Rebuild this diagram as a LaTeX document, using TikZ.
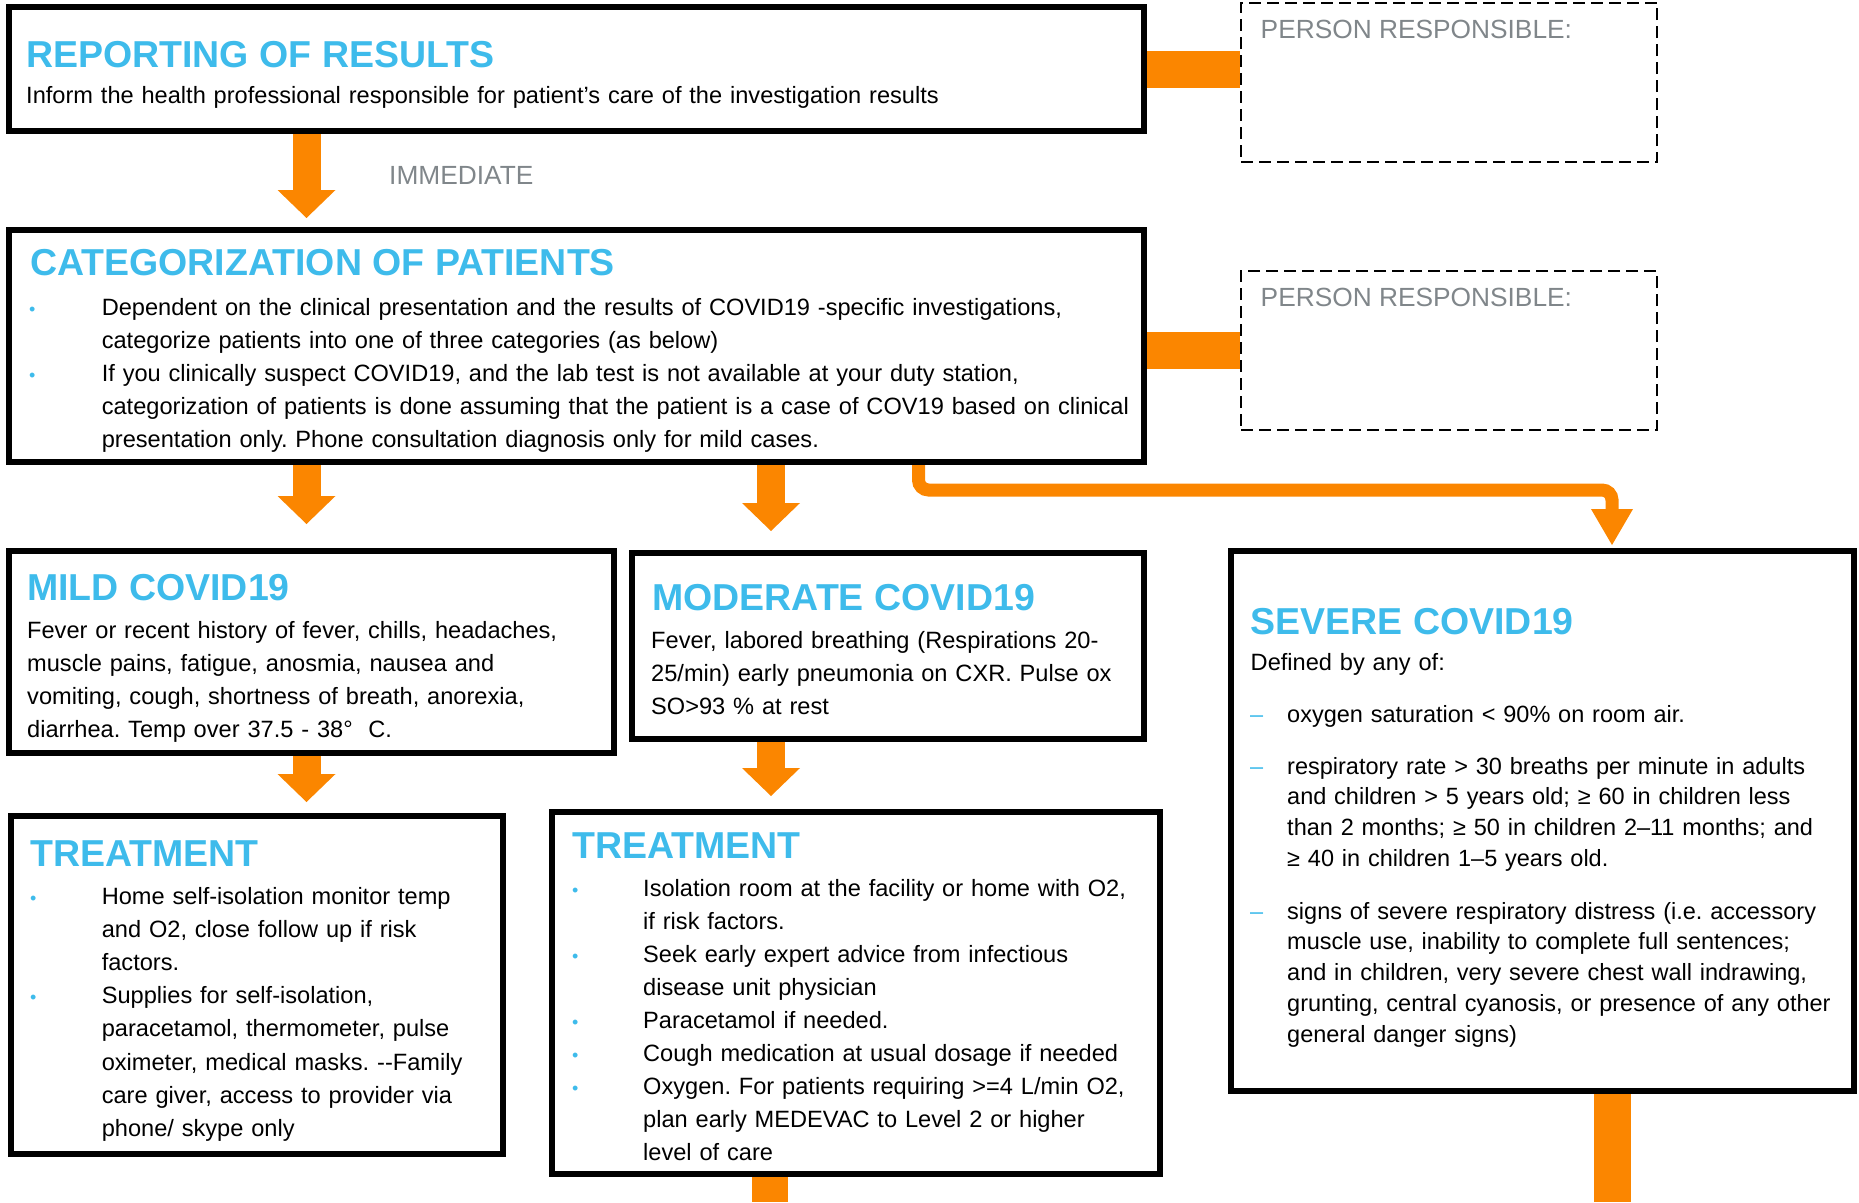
\documentclass[tikz,border=0pt]{standalone}
\usepackage{fontspec}
\setmainfont{Liberation Sans}
\usetikzlibrary{arrows.meta}
\definecolor{oarr}{RGB}{251,134,0}
\definecolor{ttl}{RGB}{62,187,235}
\definecolor{gry}{RGB}{128,134,138}
\pgfdeclarelayer{bg}
\pgfsetlayers{bg,main}
\frenchspacing
\tikzset{
  box/.style={draw=black, line width=6pt, rectangle, inner sep=0pt},
  prbox/.style={draw=black, line width=2pt, dash pattern=on 12pt off 6pt, rectangle, inner sep=0pt},
  ttlf/.style={anchor=base west, inner sep=0pt, text=ttl, font=\fontsize{37.5}{40}\selectfont\bfseries},
  bodyf/.style={anchor=base west, inner sep=0pt, text=black, align=left, text width=1100pt, font=\fontsize{23.6}{33.2}\selectfont},
  sevf/.style={anchor=base west, inner sep=0pt, text=black, align=left, text width=560pt, font=\fontsize{23.5}{30.9}\selectfont},
  grayf/.style={anchor=base west, inner sep=0pt, text=gry, font=\fontsize{26.3}{30}\selectfont},
  bul/.style={anchor=base west, inner sep=0pt, text=ttl, font=\fontsize{18}{20}\selectfont},
  dsh/.style={anchor=base west, inner sep=0pt, text=ttl, font=\fontsize{23.5}{30}\selectfont},
  obar/.style={draw=oarr, line width=37pt},
  oarrow/.style={draw=oarr, line width=28pt, -{Triangle[width=58pt,length=28pt,line width=0pt]}},
  othin/.style={draw=oarr, line width=13pt, rounded corners=10pt, -{Triangle[width=42pt,length=36pt,line width=0pt]}}
}
\begin{document}
\begin{tikzpicture}[x=1pt,y=-1pt]
\useasboundingbox (0,0) rectangle (1859,1202);
% boxes
\node[box, minimum width=1135pt, minimum height=124pt] (rep) at (576.5,69) {};
\node[box, minimum width=1135pt, minimum height=232pt] (cat) at (576.5,346) {};
\node[box, minimum width=605pt, minimum height=202pt] (mild) at (311.5,652) {};
\node[box, minimum width=512pt, minimum height=186pt] (mod) at (888,646) {};
\node[box, minimum width=623pt, minimum height=540pt] (sev) at (1542.5,821) {};
\node[box, minimum width=492.5pt, minimum height=338pt] (tr1) at (256.75,985) {};
\node[box, minimum width=608pt, minimum height=362pt] (tr2) at (856,993) {};
\node[prbox, minimum width=416pt, minimum height=159.5pt] (pr1) at (1449,82.25) {};
\node[prbox, minimum width=416pt, minimum height=159pt] (pr2) at (1449,350.5) {};
% column coordinates
\coordinate (cl) at (306.5,0);
\coordinate (cm) at (771,0);
\coordinate (cs) at (918.5,0);
\coordinate (cr) at (1612,0);
\coordinate (e1) at (770,1202);
\coordinate (e2) at (1612,1202);
% connectors
\begin{pgfonlayer}{bg}
\draw[obar] (rep.east) -- (rep.east -| pr1.west);
\draw[obar] (pr2.west -| cat.east) -- (pr2.west);
\draw[oarrow, shorten >=9pt] (rep.south -| cl) -- (cat.north -| cl);
\draw[oarrow, shorten >=24pt] (cat.south -| cl) -- (mild.north -| cl);
\draw[oarrow, shorten >=19pt] (cat.south -| cm) -- (mod.north -| cm);
\draw[oarrow, shorten >=11pt] (mild.south -| cl) -- (tr1.north -| cl);
\draw[oarrow, shorten >=13pt] (mod.south -| cm) -- (tr2.north -| cm);
\draw[othin, shorten >=3pt] (cat.south -| cs) -- ++(0,25) -| (sev.north -| cr);
\draw[draw=oarr, line width=36pt] (tr2.south -| e1) -- (e1);
\draw[draw=oarr, line width=37pt] (sev.south -| e2) -- (e2);
\end{pgfonlayer}
% texts
\node[ttlf] (rep-t) at (26,67) {REPORTING OF RESULTS};
\node[bodyf] (rep-b) at (26,103) {Inform the health professional responsible for patient’s care of the investigation results};
\node[grayf] (pr1-t) at (1260.5,38.6) {PERSON RESPONSIBLE:};
\node[grayf] (pr2-t) at (1260.5,306) {PERSON RESPONSIBLE:};
\node[grayf] (imm) at (389,184) {IMMEDIATE};
\node[ttlf] (cat-t) at (30,275) {CATEGORIZATION OF PATIENTS};
\node[bul] (cat-b1) at (29,315) {•};
\node[bul] (cat-b2) at (29,381.4) {•};
\node[bodyf] (cat-x) at (101.6,315) {Dependent on the clinical presentation and the results of COVID19 -specific investigations,\\
categorize patients into one of three categories (as below)\\
If you clinically suspect COVID19, and the lab test is not available at your duty station,\\
categorization of patients is done assuming that the patient is a case of COV19 based on clinical\\
presentation only. Phone consultation diagnosis only for mild cases.};
\node[ttlf] (mild-t) at (27,600) {MILD COVID19};
\node[bodyf] (mild-x) at (27,638) {Fever or recent history of fever, chills, headaches,\\
muscle pains, fatigue, anosmia, nausea and\\
vomiting, cough, shortness of breath, anorexia,\\
diarrhea. Temp over 37.5 - 38°\ \ C.};
\node[ttlf] (mod-t) at (652,610) {MODERATE COVID19};
\node[bodyf] (mod-x) at (651,648) {Fever, labored breathing (Respirations 20-\\
25/min) early pneumonia on CXR. Pulse ox\\
SO>93 \% at rest};
\node[ttlf] (tr1-t) at (30,866) {TREATMENT};
\node[bul] (tr1-b1) at (30,904) {•};
\node[bul] (tr1-b2) at (30,1003.6) {•};
\node[bodyf] (tr1-x) at (101.6,904) {Home self-isolation monitor temp\\
and O2, close follow up if risk\\
factors.\\
Supplies for self-isolation,\\
paracetamol, thermometer, pulse\\
oximeter, medical masks. -{}-Family\\
care giver, access to provider via\\
phone/ skype only};
\node[ttlf] (tr2-t) at (572,858) {TREATMENT};
\node[bul] (tr2-b1) at (572,896) {•};
\node[bul] (tr2-b2) at (572,962.2) {•};
\node[bul] (tr2-b3) at (572,1028.4) {•};
\node[bul] (tr2-b4) at (572,1061.5) {•};
\node[bul] (tr2-b5) at (572,1094.6) {•};
\node[bodyf, font=\fontsize{23.6}{33.1}\selectfont] (tr2-x) at (643,896) {Isolation room at the facility or home with O2,\\
if risk factors.\\
Seek early expert advice from infectious\\
disease unit physician\\
Paracetamol if needed.\\
Cough medication at usual dosage if needed\\
Oxygen. For patients requiring >=4 L/min O2,\\
plan early MEDEVAC to Level 2 or higher\\
level of care};
\node[ttlf] (sev-t) at (1250.5,634) {SEVERE COVID19};
\node[bodyf] (sev-d) at (1250.5,670) {Defined by any of:};
\node[dsh] (sev-d1) at (1250,722) {–};
\node[dsh] (sev-d2) at (1250,774) {–};
\node[dsh] (sev-d3) at (1250,919) {–};
\node[sevf] (sev-x1) at (1287,722) {oxygen saturation < 90\% on room air.};
\node[sevf] (sev-x2) at (1287,774) {respiratory rate > 30 breaths per minute in adults\\
and children > 5 years old; ≥ 60 in children less\\
than 2 months; ≥ 50 in children 2–11 months; and\\
≥ 40 in children 1–5 years old.};
\node[sevf] (sev-x3) at (1287,919) {signs of severe respiratory distress (i.e. accessory\\
muscle use, inability to complete full sentences;\\
and in children, very severe chest wall indrawing,\\
grunting, central cyanosis, or presence of any other\\
general danger signs)};
\end{tikzpicture}
\end{document}
